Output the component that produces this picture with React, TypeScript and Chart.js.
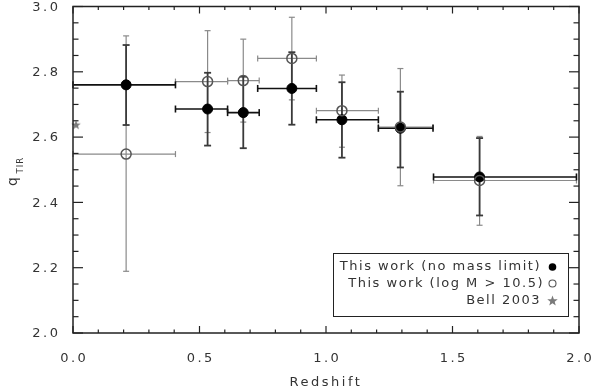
import React, { useEffect, useRef } from 'react';
import { Chart, registerables } from 'chart.js';

Chart.register(...registerables);

const FONT = "'DejaVu Sans', 'Liberation Sans', Arial, sans-serif";

// ---- data ----
// This work (no mass limit): filled circles
const zAll = [0.21, 0.532, 0.673, 0.865, 1.063, 1.294, 1.607];
const qAll = [2.76, 2.686, 2.675, 2.749, 2.653, 2.627, 2.478];
const zLoAll = [0.0, 0.405, 0.611, 0.73, 0.962, 1.207, 1.425];
const zHiAll = [0.405, 0.611, 0.736, 0.962, 1.207, 1.423, 1.99];
const qLoAll = [2.637, 2.574, 2.566, 2.638, 2.537, 2.507, 2.36];
const qHiAll = [2.882, 2.797, 2.785, 2.86, 2.768, 2.739, 2.597];

// This work (log M > 10.5): open circles
const zMass = [0.21, 0.532, 0.673, 0.865, 1.063, 1.294, 1.607];
const qMass = [2.548, 2.77, 2.773, 2.841, 2.681, 2.631, 2.467];
const zLoMass = [0.0, 0.405, 0.611, 0.73, 0.962, 1.207, 1.425];
const zHiMass = [0.405, 0.611, 0.736, 0.962, 1.207, 1.423, 1.99];
const qLoMass = [2.189, 2.614, 2.646, 2.714, 2.569, 2.451, 2.33];
const qHiMass = [2.91, 2.926, 2.9, 2.967, 2.79, 2.81, 2.602];

// Bell 2003: star
const zBell = [0.012];
const qBell = [2.638];

const xTicks = [0.0, 0.5, 1.0, 1.5, 2.0];
const yTicks = [2.0, 2.2, 2.4, 2.6, 2.8, 3.0];
const legendLabels = ['This work (no mass limit)', 'This work (log M > 10.5)', 'Bell 2003'];
const xTitle = 'Redshift';
const yTitleMain = 'q';
const yTitleSub = 'TIR';

const TICK_SPACING = 2.5;

function starPath(ctx: CanvasRenderingContext2D, cx: number, cy: number, ro: number, ri: number) {
  ctx.beginPath();
  for (let k = 0; k < 10; k++) {
    const r = k % 2 === 0 ? ro : ri;
    const a = -Math.PI / 2 + (k * Math.PI) / 5;
    const x = cx + r * Math.cos(a);
    const y = cy + r * Math.sin(a);
    if (k === 0) ctx.moveTo(x, y);
    else ctx.lineTo(x, y);
  }
  ctx.closePath();
}

function makeStar(): HTMLCanvasElement {
  const c = document.createElement('canvas');
  c.width = 12;
  c.height = 12;
  const g = c.getContext('2d')!;
  g.fillStyle = '#7a7a7a';
  starPath(g, 6, 6.4, 5, 2.1);
  g.fill();
  return c;
}

function line(ctx: CanvasRenderingContext2D, x1: number, y1: number, x2: number, y2: number) {
  ctx.beginPath();
  ctx.moveTo(x1, y1);
  ctx.lineTo(x2, y2);
  ctx.stroke();
}

function drawErrors(
  ctx: CanvasRenderingContext2D, sx: any, sy: any,
  xs: number[], ys: number[], xlo: number[], xhi: number[], ylo: number[], yhi: number[],
  st: { v: string; vw: number; h: string; hw: number; cap: number }
) {
  for (let i = 0; i < xs.length; i++) {
    const px = sx.getPixelForValue(xs[i]);
    const py = sy.getPixelForValue(ys[i]);
    const y1 = sy.getPixelForValue(ylo[i]);
    const y2 = sy.getPixelForValue(yhi[i]);
    const x1 = sx.getPixelForValue(xlo[i]);
    const x2 = sx.getPixelForValue(xhi[i]);
    ctx.strokeStyle = st.v;
    ctx.lineWidth = st.vw;
    line(ctx, px, y1, px, y2);
    line(ctx, px - st.cap, y1, px + st.cap, y1);
    line(ctx, px - st.cap, y2, px + st.cap, y2);
    ctx.strokeStyle = st.h;
    ctx.lineWidth = st.hw;
    line(ctx, x1, py, x2, py);
    line(ctx, x1, py - st.cap, x1, py + st.cap);
    line(ctx, x2, py - st.cap, x2, py + st.cap);
  }
}

const idlPlugin = {
  id: 'idlStyle',
  beforeLayout(chart: any) {
    chart.ctx.letterSpacing = TICK_SPACING + 'px';
  },
  beforeDraw(chart: any) {
    chart.ctx.letterSpacing = TICK_SPACING + 'px';
  },
  beforeDatasetsDraw(chart: any) {
    const ctx = chart.ctx as CanvasRenderingContext2D;
    const sx = chart.scales.x;
    const sy = chart.scales.y;
    ctx.save();
    ctx.lineCap = 'butt';
    drawErrors(ctx, sx, sy, zMass, qMass, zLoMass, zHiMass, qLoMass, qHiMass,
      { v: '#8a8a8a', vw: 1.2, h: '#8a8a8a', hw: 1.2, cap: 3 });
    drawErrors(ctx, sx, sy, zAll, qAll, zLoAll, zHiAll, qLoAll, qHiAll,
      { v: '#3a3a3a', vw: 1.8, h: '#111', hw: 1.6, cap: 3.5 });
    ctx.restore();
  },
  afterDatasetsDraw(chart: any) {
    const ctx = chart.ctx as CanvasRenderingContext2D;
    const { left, right, top, bottom } = chart.chartArea;
    const sx = chart.scales.x;
    const sy = chart.scales.y;
    ctx.save();
    ctx.strokeStyle = '#222';
    ctx.lineWidth = 1.5;
    ctx.strokeRect(left, top, right - left, bottom - top);
    ctx.lineWidth = 1.2;
    for (let i = 0; i <= 20; i++) {
      const v = i / 10;
      const p = sx.getPixelForValue(v);
      const len = i % 5 === 0 ? 7 : 3.5;
      line(ctx, p, bottom, p, bottom - len);
      line(ctx, p, top, p, top + len);
    }
    for (let i = 0; i <= 20; i++) {
      const v = 2 + i * 0.05;
      const p = sy.getPixelForValue(v);
      const len = i % 4 === 0 ? 10 : 5.5;
      line(ctx, left, p, left + len, p);
      line(ctx, right, p, right - len, p);
    }
    ctx.restore();
  },
  afterDraw(chart: any) {
    const ctx = chart.ctx as CanvasRenderingContext2D;
    const { right, bottom } = chart.chartArea;
    ctx.save();
    // y-axis title: q_TIR
    ctx.fillStyle = '#333';
    ctx.translate(17, 186);
    ctx.rotate(-Math.PI / 2);
    ctx.textBaseline = 'alphabetic';
    ctx.textAlign = 'left';
    (ctx as any).letterSpacing = '0px';
    ctx.font = `14px ${FONT}`;
    ctx.fillText(yTitleMain, 0, 0);
    (ctx as any).letterSpacing = '1px';
    ctx.font = `8.5px ${FONT}`;
    ctx.fillText(yTitleSub, 12.5, 5.5);
    ctx.restore();

    // legend box
    ctx.save();
    const bx2 = right - 11;
    const by2 = bottom - 17;
    const bx1 = bx2 - 235;
    const by1 = by2 - 63;
    ctx.strokeStyle = '#222';
    ctx.lineWidth = 1;
    ctx.strokeRect(bx1 + 0.5, by1 + 0.5, bx2 - bx1, by2 - by1);
    ctx.font = `13px ${FONT}`;
    (ctx as any).letterSpacing = '1.5px';
    ctx.fillStyle = '#333';
    ctx.textAlign = 'right';
    ctx.textBaseline = 'middle';
    const rows = [by1 + 14, by1 + 30.5, by1 + 47.5];
    const tx = bx2 - 27;
    const sxm = bx2 - 15.5;
    legendLabels.forEach((t, i) => ctx.fillText(t, tx + (i === 1 ? 3 : 0), rows[i]));
    // symbols
    ctx.fillStyle = '#000';
    ctx.beginPath();
    ctx.arc(sxm, rows[0], 3.8, 0, Math.PI * 2);
    ctx.fill();
    ctx.strokeStyle = '#555';
    ctx.lineWidth = 1.1;
    ctx.beginPath();
    ctx.arc(sxm, rows[1], 3.5, 0, Math.PI * 2);
    ctx.stroke();
    ctx.fillStyle = '#7a7a7a';
    starPath(ctx, sxm, rows[2] + 0.5, 5.5, 2.3);
    ctx.fill();
    ctx.restore();
  },
};

export default function App() {
  const ref = useRef<HTMLCanvasElement | null>(null);
  useEffect(() => {
    document.body.style.margin = '0';
    const canvas = ref.current!;
    const star = makeStar();
    const toPts = (xs: number[], ys: number[]) => xs.map((x, i) => ({ x, y: ys[i] }));
    const chart = new Chart(canvas, {
      type: 'scatter',
      data: {
        datasets: [
          {
            label: legendLabels[1],
            data: toPts(zMass, qMass),
            pointStyle: 'circle',
            pointRadius: 5,
            backgroundColor: 'rgba(0,0,0,0)',
            borderColor: '#555',
            borderWidth: 1.5,
            clip: false as any,
          },
          {
            label: legendLabels[0],
            data: toPts(zAll, qAll),
            pointStyle: 'circle',
            pointRadius: 5,
            backgroundColor: '#000',
            borderColor: '#000',
            borderWidth: 1,
            clip: false as any,
          },
          {
            label: legendLabels[2],
            data: toPts(zBell, qBell),
            pointStyle: star as any,
            pointRadius: 5,
            clip: false as any,
          },
        ],
      },
      options: {
        animation: false,
        responsive: true,
        maintainAspectRatio: false,
        layout: { padding: { top: 6, right: 14, left: 0, bottom: 0 } },
        plugins: { legend: { display: false }, tooltip: { enabled: false } },
        scales: {
          x: {
            type: 'linear',
            min: 0,
            max: 2,
            grid: { display: false },
            border: { display: false },
            afterBuildTicks: (s: any) => {
              s.ticks = xTicks.map((v) => ({ value: v }));
            },
            afterFit: (s: any) => {
              s.height = 59;
              s.paddingLeft = 0;
              s.paddingRight = 0;
            },
            ticks: {
              padding: 10,
              labelOffset: TICK_SPACING / 2,
              color: '#333',
              font: { family: FONT, size: 13 },
              maxRotation: 0,
              autoSkip: false,
              callback: (v: any) => Number(v).toFixed(1),
            },
            title: {
              display: true,
              text: xTitle,
              color: '#333',
              font: { family: FONT, size: 13 },
              padding: { top: 0, bottom: 2 },
            },
          },
          y: {
            type: 'linear',
            min: 2,
            max: 3,
            grid: { display: false },
            border: { display: false },
            afterBuildTicks: (s: any) => {
              s.ticks = yTicks.map((v) => ({ value: v }));
            },
            afterFit: (s: any) => {
              s.width = 73;
              s.paddingTop = 0;
              s.paddingBottom = 0;
            },
            ticks: {
              padding: 4.5,
              labelOffset: 1,
              color: '#333',
              font: { family: FONT, size: 13 },
              autoSkip: false,
              callback: (v: any) => Number(v).toFixed(1),
            },
          },
        },
      },
      plugins: [idlPlugin as any],
    });
    return () => chart.destroy();
  }, []);
  return (
    <div style={{ position: 'absolute', left: 0, top: 0, width: 593, height: 392, background: '#fff' }}>
      <canvas ref={ref} />
    </div>
  );
}
